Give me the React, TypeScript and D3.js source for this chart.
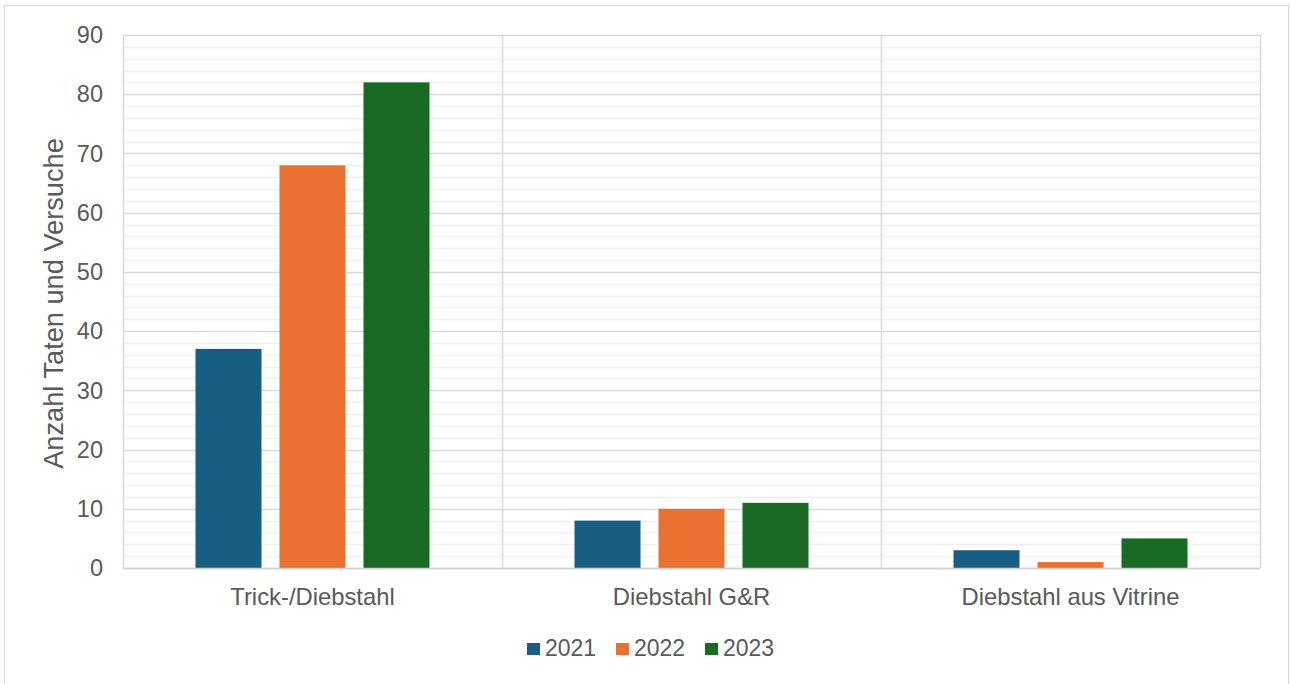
import * as d3 from "d3";
import { useEffect, useRef } from "react";

const categories = ["Trick-/Diebstahl", "Diebstahl G&R", "Diebstahl aus Vitrine"];
const years = ["2021", "2022", "2023"];
const values2021 = [37, 8, 3];
const values2022 = [68, 10, 1];
const values2023 = [82, 11, 5];
const yTicks = [0, 10, 20, 30, 40, 50, 60, 70, 80, 90];
const minorTicks = d3.range(0, 91, 2);

const colors = ["#175E82", "#E97132", "#196B24"];
const W = 1290;
const H = 684;
const FONT = "'Liberation Sans', Arial, sans-serif";
const TEXT = "#595959";

const App = () => {
  const svgRef = useRef<SVGSVGElement>(null);

  useEffect(() => {
    const svgEl = svgRef.current;
    if (!svgEl) return;
    const svg = d3.select(svgEl);
    svg.selectAll("*").remove();

    const left = 123;
    const right = 1260;
    const top = 35;
    const bottom = 568;

    // outer chart border
    svg
      .append("rect")
      .attr("x", 4.5)
      .attr("y", 5.5)
      .attr("width", 1284)
      .attr("height", 700)
      .attr("fill", "#fff")
      .attr("stroke", "#d9d9d9")
      .attr("stroke-width", 1);

    const y = d3.scaleLinear().domain([0, 90]).range([bottom, top]);
    const x0 = d3.scaleBand<string>().domain(categories).range([left, right]);
    const x1 = d3
      .scaleBand<string>()
      .domain(years)
      .range([0, x0.bandwidth()])
      .paddingInner(0.214)
      .paddingOuter(0.863);

    const series = [values2021, values2022, values2023];

    // minor gridlines
    svg
      .append("g")
      .selectAll("line")
      .data(minorTicks.filter((t) => t % 10 !== 0))
      .join("line")
      .attr("x1", left)
      .attr("x2", right)
      .attr("y1", (d) => Math.round(y(d)) + 0.5)
      .attr("y2", (d) => Math.round(y(d)) + 0.5)
      .attr("stroke", "#f0f0f0")
      .attr("stroke-width", 1.5);

    // major gridlines
    svg
      .append("g")
      .selectAll("line")
      .data(yTicks)
      .join("line")
      .attr("x1", left)
      .attr("x2", right)
      .attr("y1", (d) => Math.round(y(d)) + 0.5)
      .attr("y2", (d) => Math.round(y(d)) + 0.5)
      .attr("stroke", "#d9d9d9")
      .attr("stroke-width", 1.5);

    // vertical category dividers
    const dividers = [left, ...categories.map((c) => (x0(c) ?? 0) + x0.bandwidth())];
    svg
      .append("g")
      .selectAll("line")
      .data(dividers)
      .join("line")
      .attr("x1", (d) => Math.round(d) + 0.5)
      .attr("x2", (d) => Math.round(d) + 0.5)
      .attr("y1", top)
      .attr("y2", bottom)
      .attr("stroke", "#d9d9d9")
      .attr("stroke-width", 1.5);

    // bars
    const groups = svg
      .append("g")
      .selectAll("g")
      .data(categories)
      .join("g")
      .attr("transform", (c) => `translate(${x0(c)},0)`);
    groups
      .selectAll("rect")
      .data((c) => years.map((yr, s) => ({ yr, s, v: series[s][categories.indexOf(c)] })))
      .join("rect")
      .attr("x", (d) => x1(d.yr) ?? 0)
      .attr("width", x1.bandwidth())
      .attr("y", (d) => y(d.v))
      .attr("height", (d) => y(0) - y(d.v))
      .attr("fill", (d) => colors[d.s]);

    // bottom axis line
    svg
      .append("line")
      .attr("x1", left)
      .attr("x2", right)
      .attr("y1", bottom + 0.5)
      .attr("y2", bottom + 0.5)
      .attr("stroke", "#d0d0d0")
      .attr("stroke-width", 1.5);

    // y tick labels
    svg
      .append("g")
      .selectAll("text")
      .data(yTicks)
      .join("text")
      .attr("x", 103)
      .attr("y", (d) => y(d))
      .attr("dy", "0.35em")
      .attr("text-anchor", "end")
      .attr("font-family", FONT)
      .attr("font-size", 23.5)
      .attr("fill", TEXT)
      .text((d) => d);

    // category labels
    svg
      .append("g")
      .selectAll("text")
      .data(categories)
      .join("text")
      .attr("x", (c) => (x0(c) ?? 0) + x0.bandwidth() / 2)
      .attr("y", 605)
      .attr("text-anchor", "middle")
      .attr("font-family", FONT)
      .attr("font-size", 23.8)
      .attr("fill", TEXT)
      .text((c) => c);

    // y axis title
    svg
      .append("text")
      .attr("transform", `translate(53,${(top + bottom) / 2 + 2}) rotate(-90)`)
      .attr("dy", "0.35em")
      .attr("text-anchor", "middle")
      .attr("font-family", FONT)
      .attr("font-size", 27.2)
      .attr("fill", TEXT)
      .text("Anzahl Taten und Versuche");

    // legend
    const legend = svg
      .append("g")
      .selectAll("g")
      .data(years)
      .join("g")
      .attr("transform", (_, i) => `translate(${527 + i * 89},643)`);
    legend
      .append("rect")
      .attr("width", 13)
      .attr("height", 12)
      .attr("fill", (_, i) => colors[i]);
    legend
      .append("text")
      .attr("x", 18)
      .attr("y", 13)
      .attr("font-family", FONT)
      .attr("font-size", 23)
      .attr("fill", TEXT)
      .text((d) => d);
  }, []);

  return (
    <svg
      ref={svgRef}
      width={W}
      height={H}
      style={{ position: "absolute", left: 0, top: 0, background: "#fff" }}
    />
  );
};

export default App;
